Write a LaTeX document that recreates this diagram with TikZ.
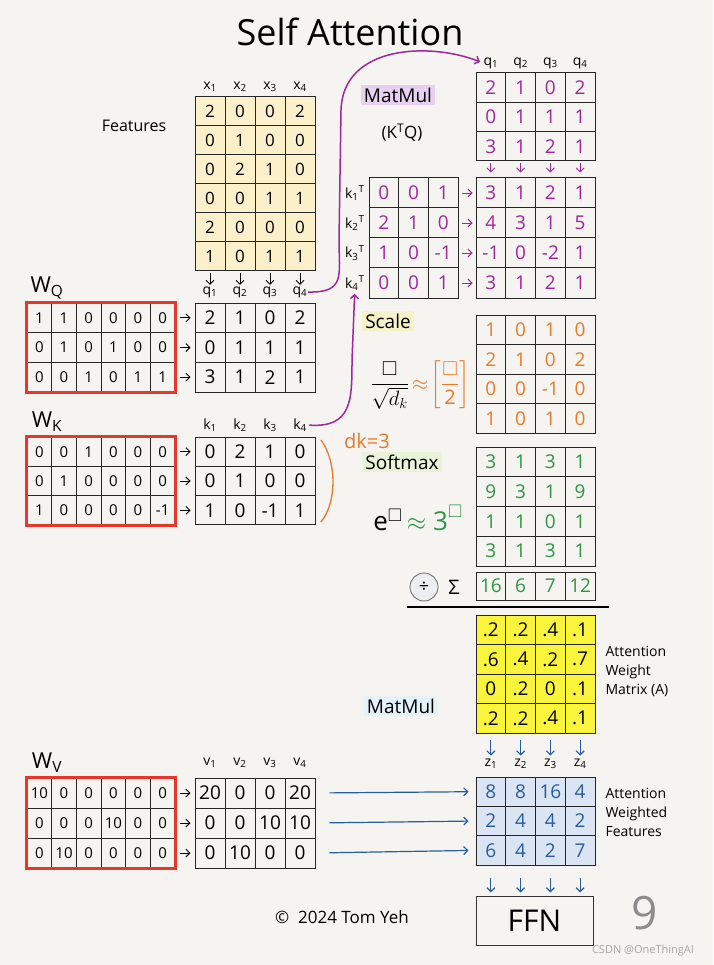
\documentclass[tikz,border=0pt]{standalone}
\usepackage{amsmath,amssymb}
\usepackage{fontspec}
\setmainfont{Open Sans}
\usetikzlibrary{arrows.meta,calc}
\definecolor{paper}{RGB}{245,244,241}
\definecolor{purp}{RGB}{160,38,160}
\definecolor{orng}{RGB}{236,120,40}
\definecolor{grn}{RGB}{45,150,65}
\definecolor{blu}{RGB}{40,92,160}
\definecolor{redb}{RGB}{232,55,40}
\definecolor{feat}{RGB}{252,240,202}
\definecolor{yel}{RGB}{250,244,60}
\definecolor{zfill}{RGB}{218,228,242}
\definecolor{lila}{RGB}{232,208,242}
\definecolor{scl}{RGB}{246,242,200}
\definecolor{smx}{RGB}{232,243,216}
\definecolor{mmb}{RGB}{228,242,250}
\begin{document}
\begin{tikzpicture}[x=1pt, y=-1pt, line width=1.1pt, >={Straight Barb[length=4pt,width=8pt]},
  cell/.style={draw=black!85, line width=1pt, inner sep=0, minimum width=30pt, minimum height=29.5pt, font=\fontsize{19}{19}\selectfont},
  wcell/.style={cell, minimum width=24.67pt, font=\fontsize{15}{15}\selectfont},
  head/.style={inner sep=0, font=\fontsize{14}{14}\selectfont},
  tag/.style={inner sep=3pt, font=\fontsize{19}{19}\selectfont},
  note/.style={align=left, inner sep=0, font=\fontsize{14}{19}\selectfont}]
    \useasboundingbox (0,0) rectangle (713,965);
    \fill[paper] (0,0) rectangle (713,965);
    \node[font=\fontsize{36}{36}\selectfont] (title) at (350,32) {Self Attention};

    \node[note, font=\fontsize{16}{16}\selectfont] (featl) at (134,126) {Features};
    \foreach \row [count=\i] in {{2,0,0,2},{0,1,0,0},{0,2,1,0},{0,0,1,1},{2,0,0,0},{1,0,1,1}}
      \foreach \v [count=\j] in \row
        \node[cell, fill=feat, minimum height=29pt, font=\fontsize{17}{17}\selectfont] (f-\i-\j) at ({180+30*\j},{82.5+29*\i}) {\v};
    \foreach \j in {1,...,4} {
      \node[head] (xh-\j) at ({180+30*\j},87) {x\textsubscript{\j}};
      \node[head] (qh-\j) at ({180+30*\j},292) {q\textsubscript{\j}};
      \draw[->, line width=0.9pt, shorten <=2pt, shorten >=1pt] (f-6-\j.south) -- (qh-\j.north);
      \node[head] (kh-\j) at ({180+30*\j},425) {k\textsubscript{\j}};
      \node[head] (vh-\j) at ({180+30*\j},763) {v\textsubscript{\j}};
    }

    \node[font=\fontsize{22}{22}\selectfont, inner sep=0] (wql) at (47,288) {W\textsubscript{Q}};
    \foreach \row [count=\i] in {{1,1,0,0,0,0},{0,1,0,1,0,0},{0,0,1,0,1,1}}
      \foreach \v [count=\j] in \row
        \node[wcell, minimum height=29.67pt] (wq-\i-\j) at ({27+24.67*(\j-0.5)},{303+29.67*(\i-0.5)}) {\v};
    \draw[redb, line width=2.2pt] (wq-1-1.north west) rectangle (wq-3-6.south east);
    \foreach \row [count=\i] in {{2,1,0,2},{0,1,1,1},{3,1,2,1}} {
      \foreach \v [count=\j] in \row
        \node[cell, minimum height=29.67pt] (q-\i-\j) at ({180+30*\j},{303+29.67*(\i-0.5)}) {\v};
      \draw[->, line width=0.9pt, shorten <=4pt, shorten >=4pt] (wq-\i-6.east) -- (q-\i-1.west);
    }

    \node[font=\fontsize{22}{22}\selectfont, inner sep=0] (wkl) at (47,422) {W\textsubscript{K}};
    \foreach \row [count=\i] in {{0,0,1,0,0,0},{0,1,0,0,0,0},{1,0,0,0,0,-1}}
      \foreach \v [count=\j] in \row
        \node[wcell, minimum height=29.33pt] (wk-\i-\j) at ({27+24.67*(\j-0.5)},{437+29.33*(\i-0.5)}) {\v};
    \draw[redb, line width=2.2pt] (wk-1-1.north west) rectangle (wk-3-6.south east);
    \foreach \row [count=\i] in {{0,2,1,0},{0,1,0,0},{1,0,-1,1}} {
      \foreach \v [count=\j] in \row
        \node[cell, minimum height=29.33pt] (k-\i-\j) at ({180+30*\j},{437+29.33*(\i-0.5)}) {\v};
      \draw[->, line width=0.9pt, shorten <=4pt, shorten >=4pt] (wk-\i-6.east) -- (k-\i-1.west);
    }
    \draw[orng, line width=1.3pt] (321,440) .. controls (337,462) and (337,502) .. (321,522);
    \node[orng, font=\fontsize{20}{20}\selectfont, inner sep=0] (dk) at (367,441) {dk=3};

    \node[font=\fontsize{22}{22}\selectfont, inner sep=0] (wvl) at (47,763) {W\textsubscript{V}};
    \foreach \row [count=\i] in {{10,0,0,0,0,0},{0,0,0,10,0,0},{0,10,0,0,0,0}}
      \foreach \v [count=\j] in \row
        \node[wcell, minimum height=30pt] (wv-\i-\j) at ({27+24.67*(\j-0.5)},{778+30*(\i-0.5)}) {\v};
    \draw[redb, line width=2.2pt] (wv-1-1.north west) rectangle (wv-3-6.south east);
    \foreach \row [count=\i] in {{20,0,0,20},{0,0,10,10},{0,10,0,0}} {
      \foreach \v [count=\j] in \row
        \node[cell, minimum height=30pt] (v-\i-\j) at ({180+30*\j},{778+30*(\i-0.5)}) {\v};
      \draw[->, line width=0.9pt, shorten <=4pt, shorten >=4pt] (wv-\i-6.east) -- (v-\i-1.west);
    }

    \node[tag, fill=lila] (mm1) at (398,95) {MatMul};
    \node[font=\fontsize{17}{17}\selectfont] (ktq) at (402,133) {(K\textsuperscript{T}Q)};
    \foreach \j in {1,...,4}
      \node[head] (qth-\j) at ({476+29.75*(\j-0.5)},63) {q\textsubscript{\j}};
    \foreach \row [count=\i] in {{2,1,0,2},{0,1,1,1},{3,1,2,1}}
      \foreach \v [count=\j] in \row
        \node[cell, text=purp, minimum width=29.75pt, minimum height=29.33pt] (qt-\i-\j) at ({476+29.75*(\j-0.5)},{73+29.33*(\i-0.5)}) {\v};
    \foreach \row [count=\i] in {{3,1,2,1},{4,3,1,5},{-1,0,-2,1},{3,1,2,1}}
      \foreach \v [count=\j] in \row
        \node[cell, text=purp, minimum width=29.75pt, minimum height=30pt] (s-\i-\j) at ({476+29.75*(\j-0.5)},{178+30*(\i-0.5)}) {\v};
    \foreach \row [count=\i] in {{0,0,1},{2,1,0},{1,0,-1},{0,0,1}} {
      \foreach \v [count=\j] in \row
        \node[cell, text=purp, minimum width=29.67pt, minimum height=30pt] (kt-\i-\j) at ({369+29.67*(\j-0.5)},{178+30*(\i-0.5)}) {\v};
      \node[head, anchor=east] (ktl-\i) at (365,{178+30*(\i-0.5)}) {k\textsubscript{\i}\textsuperscript{T}};
      \draw[->, purp, line width=0.9pt, shorten <=3pt, shorten >=3pt] (kt-\i-3.east) -- (s-\i-1.west);
    }
    \foreach \j in {1,...,4}
      \draw[->, purp, line width=0.9pt, shorten <=2pt, shorten >=5pt] (qt-3-\j.south) -- (s-1-\j.north);
    \draw[->, purp, line width=1.5pt, shorten >=3pt] (qh-4.east) .. controls (346,293) and (339,275) .. (339,240) -- (341,110) .. controls (343,45) and (430,42) .. (qth-1.west);
    \draw[->, purp, line width=1.5pt, shorten <=2pt, shorten >=3pt] (kh-4.east) .. controls (352,428) and (352,400) .. (352,360) -- (ktl-4.south);

    \node[tag, fill=scl] (scale) at (388,321) {Scale};
    \node[font=\fontsize{20}{20}\selectfont, inner sep=0] (sqf) at (420,385) {$\dfrac{\square}{\sqrt{d_k}}$\,\textcolor{orng}{$\approx\!\left[\dfrac{\square}{\text{2}}\right]$}};
    \foreach \row [count=\i] in {{1,0,1,0},{2,1,0,2},{0,0,-1,0},{1,0,1,0}}
      \foreach \v [count=\j] in \row
        \node[cell, text=orng, minimum width=29.75pt] (sc-\i-\j) at ({476+29.75*(\j-0.5)},{315+29.5*(\i-0.5)}) {\v};

    \node[tag, fill=smx] (soft) at (402,462) {Softmax};
    \node[font=\fontsize{26}{26}\selectfont] (ex) at (418,518) {e$^{\square}$\,\textcolor{grn}{$\approx \text{3}^{\square}$}};
    \foreach \row [count=\i] in {{3,1,3,1},{9,3,1,9},{1,1,0,1},{3,1,3,1}}
      \foreach \v [count=\j] in \row
        \node[cell, text=grn, minimum width=29.75pt, minimum height=29.75pt] (sm-\i-\j) at ({476+29.75*(\j-0.5)},{447+29.75*(\i-0.5)}) {\v};
    \node[circle, draw=black!55, fill=zfill!70!gray!30, line width=0.9pt, minimum size=28pt, inner sep=0, font=\fontsize{18}{18}\selectfont] (div) at (424,587) {÷};
    \node[font=\fontsize{20}{20}\selectfont] (sig) at (454,587) {Σ};
    \foreach \v [count=\j] in {16,6,7,12}
      \node[cell, text=grn, minimum width=29.75pt, minimum height=28pt] (sum-\j) at ({476+29.75*(\j-0.5)},586) {\v};
    \draw[line width=1.3pt] (407,607) -- (609,607);

    \foreach \row [count=\i] in {{.2,.2,.4,.1},{.6,.4,.2,.7},{0,.2,0,.1},{.2,.2,.4,.1}}
      \foreach \v [count=\j] in \row
        \node[cell, fill=yel, minimum width=29.75pt] (a-\i-\j) at ({476+29.75*(\j-0.5)},{615+29.5*(\i-0.5)}) {\v};
    \node[note, anchor=west] (awm) at (605,671) {Attention\\Weight\\Matrix (A)};
    \node[tag, fill=mmb] (mm2) at (401,706) {MatMul};
    \foreach \j in {1,...,4} {
      \node[head] (zh-\j) at ({476+29.75*(\j-0.5)},764) {z\textsubscript{\j}};
      \draw[->, blu, line width=1.2pt, shorten <=6pt, shorten >=3pt] (a-4-\j.south) -- (zh-\j.north);
    }

    \foreach \row [count=\i] in {{8,8,16,4},{2,4,4,2},{6,4,2,7}} {
      \foreach \v [count=\j] in \row
        \node[cell, fill=zfill, text=blu, minimum width=29.75pt, minimum height=29.33pt] (z-\i-\j) at ({476+29.75*(\j-0.5)},{777+29.33*(\i-0.5)}) {\v};
      \draw[->, blu, line width=1.2pt, shorten <=14pt, shorten >=7pt] (v-\i-4.east) -- (z-\i-1.west);
    }
    \node[note, anchor=west] (awf) at (605,812) {Attention\\Weighted\\Features};
    \node[draw=black!80, line width=1pt, minimum width=117pt, minimum height=49pt, font=\fontsize{30}{30}\selectfont] (ffn) at (534.5,920.5) {FFN};
    \foreach \j in {1,...,4}
      \draw[->, blu, line width=1.2pt, shorten <=12pt, shorten >=3pt] (z-3-\j.south) -- (z-3-\j.south |- ffn.north);

    \node[font=\fontsize{17}{17}\selectfont] (copy) at (342,917) {©\ \ 2024 Tom Yeh};
    \node[black!45, font=\fontsize{46}{46}\selectfont] (page) at (645,913) {9};
    \node[black!35, font=\fontsize{11}{11}\selectfont] (csdn) at (643,951) {CSDN @OneThingAI};
\end{tikzpicture}
\end{document}
